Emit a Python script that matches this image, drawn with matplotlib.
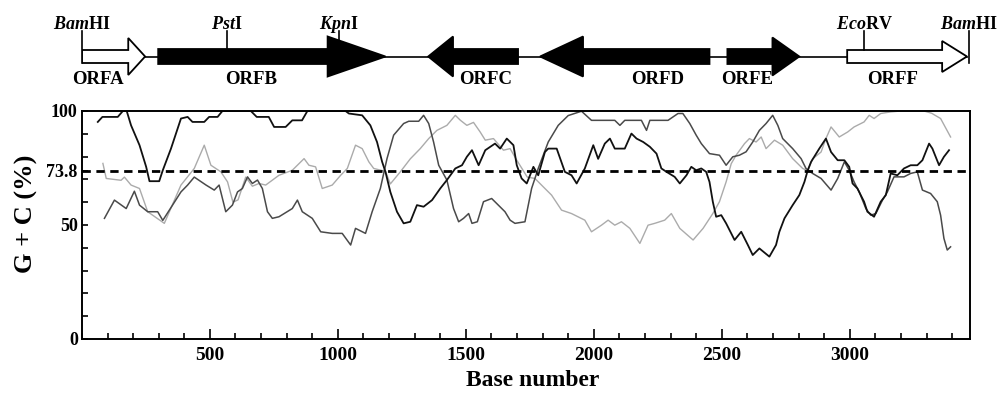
import numpy as np
import matplotlib
matplotlib.use('Agg')
import matplotlib.pyplot as plt
from matplotlib.patches import Polygon
from matplotlib.ticker import MultipleLocator

# G+C yüzdesi, üç kodon pozisyonu (okunan değerler)
black_pos = [62, 80, 140, 160, 175, 192, 225, 251, 264, 302, 316, 348, 387, 413, 432, 478, 497, 530, 549, 660,
             683, 730, 751, 796, 822, 860, 881, 1030, 1043, 1095, 1127, 1153, 1173, 1186, 1205, 1231, 1257, 1283,
             1309, 1335, 1368, 1400, 1426, 1459, 1485, 1504, 1524, 1550, 1576, 1614, 1634, 1660, 1686, 1699, 1718,
             1738, 1764, 1783, 1809, 1822, 1855, 1887, 1913, 1933, 1965, 1998, 2017, 2043, 2063, 2082, 2121, 2147,
             2167, 2193, 2219, 2245, 2264, 2284, 2316, 2336, 2362, 2381, 2400, 2420, 2439, 2452, 2465, 2478, 2498,
             2517, 2550, 2576, 2602, 2621, 2647, 2686, 2712, 2725, 2745, 2777, 2803, 2823, 2836, 2849, 2881, 2907,
             2927, 2953, 2979, 2998, 3011, 3030, 3056, 3069, 3095, 3121, 3141, 3160, 3186, 3212, 3238, 3264, 3284,
             3310, 3323, 3349, 3368, 3388]
black_gc = [95.2, 97.4, 97.4, 100, 100, 93.7, 85, 75.5, 69.2, 69.2, 74, 83.5, 96.7, 97.4, 95.2, 95.2, 97.4, 97.4, 100, 100,
            97.4, 97.4, 93, 93, 95.9, 95.9, 100, 100, 98.9, 98.1, 93.7, 86.4, 77.7, 73.3, 64.5, 55.8, 50.7, 51.4,
            58.7, 58, 60.9, 66, 69.7, 74.8, 76.2, 79.9, 82.8, 76.2, 82.8, 85.7, 83.5, 87.9, 85, 76.2, 70.4,
            68.2, 75.5, 71.8, 82, 83.5, 83.5, 73.3, 71.8, 68.2, 74.8, 85, 79, 85.7, 87.9, 83.5, 83.5, 90.1,
            87.9, 86.4, 84.3, 81.3, 74.8, 73.3, 71.1, 68.2, 71.8, 75.5, 74, 74.8, 73.3, 68.9, 60.2, 53.6, 54.3,
            50.7, 43.4, 47, 41.2, 36.8, 39.7, 36.1, 41.2, 47, 52.9, 58.7, 63.1, 68.9, 74, 77.7, 83.5, 87.9,
            82, 78.4, 78.4, 75.5, 68.2, 66, 60.2, 55.8, 53.6, 60.2, 63.1, 72.6, 71.8, 74.8, 76.2, 76.2, 78.4,
            85.7, 83.5, 76.2, 79.9, 82.8]

dark_pos = [88, 127, 173, 205, 225, 257, 296, 316, 387, 413, 439, 485, 517, 536, 562, 588, 608, 627, 647, 666, 686,
            705, 725, 744, 770, 822, 842, 861, 900, 933, 978, 1017, 1050, 1069, 1108, 1134, 1166, 1192, 1218, 1257,
            1277, 1316, 1335, 1355, 1374, 1394, 1426, 1452, 1472, 1491, 1511, 1524, 1545, 1569, 1601, 1627, 1653,
            1673, 1692, 1731, 1757, 1783, 1822, 1861, 1900, 1952, 1991, 2082, 2102, 2121, 2186, 2206, 2219, 2290,
            2329, 2348, 2375, 2400, 2420, 2452, 2491, 2517, 2543, 2569, 2595, 2621, 2647, 2673, 2699, 2719, 2738,
            2777, 2810, 2829, 2855, 2888, 2927, 2953, 2979, 2998, 3017, 3037, 3063, 3082, 3102, 3128, 3147, 3173,
            3212, 3238, 3264, 3284, 3316, 3342, 3355, 3368, 3381, 3394]
dark_gc = [52.9, 60.9, 57.2, 64.8, 58.7, 55.8, 55.8, 52, 64.5, 67.5, 71, 67.5, 65.3, 67.5, 55.8, 58.7, 64.5, 66, 71.1, 68.2, 69.7,
           66, 55.8, 52.9, 53.6, 57.2, 60.9, 55.8, 52.9, 47, 46.3, 46.3, 41.2, 48.5, 46.3, 55.8, 66, 79.1, 89.4, 94.5,
           95.5, 95.5, 98.1, 94.5, 86.4, 76.2, 69.7, 57.2, 51.4, 52.9, 55, 50.7, 51.4, 60.2, 61.6, 58.7, 55.8,
           52.1, 50.7, 51.4, 66, 74.8, 86.4, 93.7, 98, 99.9, 95.9, 95.9, 93.7, 95.9, 95.9, 91.5, 95.9, 95.9,
           98.9, 98.9, 94.5, 89.4, 85.7, 81.3, 80.6, 76.2, 79.9, 80.6, 82.1, 86.4, 91.5, 94.5, 98.1, 93.7, 87.9,
           83.5, 79.1, 74.8, 72.6, 70.4, 65.3, 70.4, 77.7, 74, 68.9, 64.5, 57.2, 54.3, 55, 60.9, 64.5, 71.1,
           71.1, 72.6, 73.3, 65.3, 63.8, 60.2, 54.3, 44.1, 39, 40.4]

light_pos = [82, 95, 153, 166, 192, 225, 257, 322, 387, 439, 478, 504, 543, 569, 590, 610, 640, 666, 692, 718, 770,
             822, 868, 887, 913, 939, 978, 1011, 1037, 1069, 1095, 1121, 1140, 1186, 1205, 1244, 1283, 1322, 1355,
             1387, 1426, 1459, 1478, 1504, 1530, 1556, 1576, 1608, 1647, 1673, 1699, 1718, 1740, 1770, 1809, 1835,
             1874, 1913, 1965, 1991, 2030, 2056, 2082, 2108, 2141, 2180, 2212, 2238, 2277, 2303, 2336, 2388, 2427,
             2465, 2491, 2517, 2537, 2556, 2589, 2608, 2634, 2654, 2673, 2706, 2738, 2777, 2816, 2836, 2855, 2888,
             2907, 2927, 2959, 2992, 3017, 3056, 3076, 3095, 3121, 3160, 3200, 3290, 3320, 3355, 3394]
light_gc = [77, 70.4, 69.6, 71, 67.5, 66, 55.8, 50.7, 67.5, 74.8, 85, 76.2, 73.3, 68.9, 60, 61, 71, 67, 68.2, 67.5, 71.8,
            74, 79.1, 76.2, 75.5, 66, 67.5, 71.8, 74.8, 85, 83.5, 77.7, 74.8, 73.5, 68, 73.3, 79, 83.5, 87.9,
            91.5, 93.7, 98.1, 96, 93.7, 95, 90.8, 87.2, 87.9, 82.8, 83.5, 78.4, 75, 71, 70.4, 66, 63.1,
            56.5, 55, 52.1, 47, 49.9, 52.1, 49.9, 51.4, 48.5, 41.9, 49.9, 50.7, 52.1, 55, 48.5, 43.4, 48.5,
            55, 60.2, 68.9, 76.9, 80.6, 85.7, 87.9, 86.4, 88.6, 83.5, 87.2, 85, 79.1, 74.8, 73.8, 79, 82,
            87.9, 93, 88.6, 90.8, 93, 95.2, 98.1, 96.7, 98.9, 99.6, 100, 100, 99, 96.7, 88.6]

genome_gc = 73.8

# Gen haritası
orf_names = ['ORFA', 'ORFB', 'ORFC', 'ORFD', 'ORFE', 'ORFF']
orf_start = [0, 298, 1353, 1790, 2522, 2990]
orf_end = [247, 1186, 1704, 2452, 2803, 3458]
orf_strand = [1, 1, -1, -1, 1, 1]
orf_filled = [False, True, True, True, True, False]

site_names = [r'$\mathit{Bam}\mathbf{HI}$', r'$\mathit{Pst}\mathbf{I}$', r'$\mathit{Kpn}\mathbf{I}$',
              r'$\mathit{Eco}\mathbf{RV}$', r'$\mathit{Bam}\mathbf{HI}$']
site_pos = [0, 566, 1003, 3056, 3466]

# stil / yerleşim
head_len = [66, 226, 97, 168, 105, 97]
head_half = [18.5, 20, 20, 20, 19, 15.5]
body_half = [6.5, 7.5, 7.5, 7.5, 7.5, 6.5]
orf_label_x = [64, 660, 1576, 2250, 2600, 3166]
site_tick_end = [63, 49, 40, 50, 63]

serif = 'Liberation Serif'
plt.rcParams['font.family'] = serif
plt.rcParams['font.weight'] = 'bold'
plt.rcParams['mathtext.fontset'] = 'custom'
plt.rcParams['mathtext.it'] = 'Liberation Serif:italic:bold'
plt.rcParams['mathtext.bf'] = 'Liberation Serif:bold'
plt.rcParams['mathtext.rm'] = 'Liberation Serif:bold'

fig = plt.figure(figsize=(9.99, 3.95), dpi=100)
ax = fig.add_axes([0.082, 0.142, 0.889, 0.577])
axm = fig.add_axes([0.082, 1 - 95 / 395, 0.889, 95 / 395], sharex=ax)

ax.plot(light_pos, light_gc, color='#ababab', lw=1.0)
ax.plot(dark_pos, dark_gc, color='#4a4a4a', lw=1.1)
ax.plot(black_pos, black_gc, color='#111111', lw=1.3)
ax.axhline(genome_gc, color='black', lw=2.0, ls=(0, (3, 2)))

ax.set_xlim(0, 3470)
ax.set_ylim(0, 100)
ax.set_yticks([0, 50, genome_gc, 100])
ax.set_yticklabels(['0', '50', '73.8', '100'])
ax.yaxis.set_minor_locator(MultipleLocator(10))
ax.set_xticks([500, 1000, 1500, 2000, 2500, 3000])
ax.xaxis.set_minor_locator(MultipleLocator(100))
ax.tick_params(axis='both', which='both', direction='in', top=False, right=False)
ax.tick_params(axis='x', which='major', length=7, width=1.2, labelsize=14, pad=6)
ax.tick_params(axis='x', which='minor', length=4, width=1.2)
ax.tick_params(axis='y', which='major', length=4, width=1.2, labelsize=13, pad=3)
ax.tick_params(axis='y', which='minor', length=4, width=1.2)
for s in ax.spines.values():
    s.set_linewidth(1.4)
ax.set_xlabel('Base number', fontsize=17, fontweight='bold')
ax.xaxis.set_label_coords(0.507, -0.135)
ax.set_ylabel('G + C (%)', fontsize=19, fontweight='bold')
ax.yaxis.set_label_coords(-0.05, 0.55)

# harita çizimi
axm.set_ylim(95, 0)
axm.axis('off')
yc = 56.5
axm.plot([0, orf_end[-1]], [yc, yc], color='black', lw=1.2, zorder=1)
for i in range(len(orf_names)):
    s, e, hl, hh, bh = orf_start[i], orf_end[i], head_len[i], head_half[i], body_half[i]
    if orf_strand[i] > 0:
        pts = [(s, yc - bh), (e - hl, yc - bh), (e - hl, yc - hh), (e, yc),
               (e - hl, yc + hh), (e - hl, yc + bh), (s, yc + bh)]
    else:
        pts = [(e, yc - bh), (s + hl, yc - bh), (s + hl, yc - hh), (s, yc),
               (s + hl, yc + hh), (s + hl, yc + bh), (e, yc + bh)]
    fc = 'black' if orf_filled[i] else 'white'
    axm.add_patch(Polygon(pts, closed=True, facecolor=fc, edgecolor='black', lw=1.3, zorder=2))
    axm.text(orf_label_x[i], 80, orf_names[i], ha='center', va='center', fontsize=13.5, fontweight='bold')

for i in range(len(site_pos)):
    axm.plot([site_pos[i], site_pos[i]], [31, site_tick_end[i]], color='black', lw=1.2, zorder=3, clip_on=False)
    axm.text(site_pos[i], 29, site_names[i], ha='center', va='baseline', fontsize=13, clip_on=False)

fig.savefig('out.png', dpi=100)
